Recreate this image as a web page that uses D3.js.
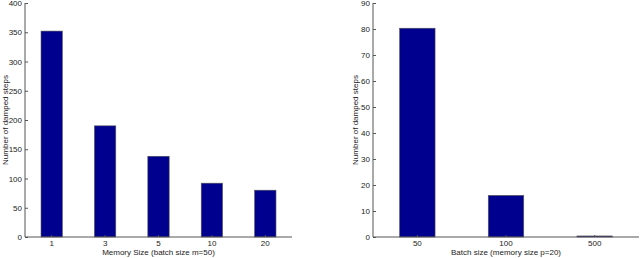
<!DOCTYPE html>
<html>
<head>
<meta charset="utf-8">
<script src="https://cdn.jsdelivr.net/npm/d3@7"></script>
<style>
  body { margin: 0; background: #fff; }
  text { font-family: "Liberation Sans", Arial, sans-serif; }
</style>
</head>
<body>
<svg id="chart" width="640" height="258"></svg>
<script>
// left panel: memory size
const memSizes = ['1', '3', '5', '10', '20'];
const memSteps = [352, 190, 138, 92, 80];
const memTicks = [0, 50, 100, 150, 200, 250, 300, 350, 400];

// right panel: batch size
const batchSizes = ['50', '100', '500'];
const batchSteps = [80.3, 16, 0.4];
const batchTicks = [0, 10, 20, 30, 40, 50, 60, 70, 80, 90];

const svg = d3.select('#chart');
const yTop = 3, yBot = 237;

panel = (opts) => {
  const x = d3.scaleBand()
    .domain(opts.cats)
    .range([opts.x0, opts.x1])
    .paddingInner(0.6)
    .paddingOuter(0.3);

  const y = d3.scaleLinear()
    .domain([0, opts.max])
    .range([yBot, yTop]);

  const g = svg.append('g');

  g.selectAll('.bar')
    .data(opts.vals)
    .enter()
    .append('rect')
    .attr('class', 'bar')
    .attr('x', (d, i) => x(opts.cats[i]))
    .attr('y', d => y(d))
    .attr('width', x.bandwidth())
    .attr('height', d => yBot - y(d))
    .style('fill', '#00008f')
    .style('stroke', '#555')
    .style('stroke-width', 0.6);

  // y axis, ticks pointing inward
  const ya = g.append('g')
    .attr('transform', `translate(${opts.x0},0)`)
    .call(d3.axisRight(y).tickValues(opts.ticks).tickSize(3).tickFormat(d3.format('d')));
  ya.select('.domain').attr('stroke', '#555').attr('d', `M0,${yTop}V${yBot}`);
  ya.selectAll('.tick line').attr('stroke', '#555');
  ya.selectAll('.tick text')
    .attr('x', -3)
    .attr('text-anchor', 'end')
    .attr('font-size', 8)
    .attr('fill', '#222');

  // x axis, ticks pointing inward
  const xa = g.append('g')
    .attr('transform', `translate(0,${yBot})`)
    .call(d3.axisTop(x).tickSize(2));
  xa.select('.domain').attr('stroke', '#555').attr('d', `M${opts.x0},0H${opts.x1}`);
  xa.selectAll('.tick line').attr('stroke', '#555');
  xa.selectAll('.tick text')
    .attr('y', 9)
    .attr('dy', 0)
    .attr('font-size', 8)
    .attr('fill', '#222');

  g.append('text')
    .attr('x', (opts.x0 + opts.x1) / 2)
    .attr('y', 255)
    .attr('text-anchor', 'middle')
    .attr('font-size', 8)
    .attr('fill', '#222')
    .text(opts.xlabel);

  g.append('text')
    .attr('transform', `translate(${opts.ylx},${(yTop + yBot) / 2}) rotate(-90)`)
    .attr('text-anchor', 'middle')
    .attr('font-size', 8)
    .attr('fill', '#222')
    .text('Number of damped steps');
}

panel({ cats: memSizes, vals: memSteps, ticks: memTicks, max: 400,
  x0: 25, x1: 292, ylx: 8, xlabel: 'Memory Size (batch size m=50)' });

panel({ cats: batchSizes, vals: batchSteps, ticks: batchTicks, max: 90,
  x0: 373, x1: 639, ylx: 358, xlabel: 'Batch size (memory size p=20)' });
</script>
</body>
</html>
